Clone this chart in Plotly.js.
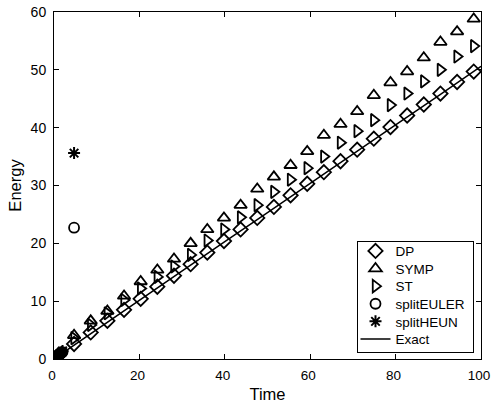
<!DOCTYPE html>
<html>
<head>
<meta charset="utf-8">
<script src="https://cdn.plot.ly/plotly-3.0.1.min.js"></script>
<style>html,body{margin:0;padding:0;background:#fff;}#chart{width:491px;height:407px;}</style>
</head>
<body>
<div id="chart"></div>
<script>
// Marker times (shared by DP, SYMP, ST)
const tMarks = [0, 4.7, 8.6, 12.5, 16.4, 20.3, 24.2, 28.1, 32.0, 35.9, 39.8, 43.7, 47.6, 51.5, 55.4, 59.3, 63.2, 67.1, 71.0, 74.9, 78.8, 82.7, 86.6, 90.5, 94.4, 98.3];
const dpVals   = [0, 2.6, 4.6, 6.6, 8.5, 10.4, 12.5, 14.4, 16.4, 18.4, 20.4, 22.4, 24.4, 26.3, 28.3, 30.3, 32.3, 34.2, 36.2, 38.1, 40.1, 42.1, 44.0, 45.9, 47.9, 49.7];
const sympVals = [0, 4.1, 6.6, 8.3, 10.9, 13.4, 15.4, 17.3, 20.0, 22.4, 24.4, 26.6, 29.4, 31.5, 33.5, 35.9, 38.7, 40.6, 42.8, 45.6, 47.8, 49.7, 52.1, 54.8, 56.6, 58.8];
const stVals   = [0, 3.6, 5.9, 7.9, 10.2, 12.2, 14.2, 16.0, 18.0, 20.5, 22.4, 24.5, 26.6, 28.9, 31.0, 33.0, 35.0, 37.4, 39.4, 41.3, 43.9, 45.9, 48.0, 50.0, 52.3, 54.1];
// Split methods: dense points near the origin plus one outlier each
const tSplit = [0, 0.25, 0.5, 0.75, 1.0, 1.25, 1.5, 1.75, 2.0, 4.7];
const eulerVals = [0, 0.15, 0.3, 0.45, 0.6, 0.75, 0.9, 1.05, 1.2, 22.7];
const heunVals  = [0, 0.2, 0.4, 0.55, 0.7, 0.85, 1.0, 1.2, 1.4, 35.6];
// Exact solution
const tExact = [0, 10, 20, 30, 40, 50, 60, 70, 80, 90, 100];
const exactVals = [0, 5.1, 10.2, 15.2, 20.3, 25.3, 30.4, 35.4, 40.5, 45.5, 50.6];

const names = ['DP', 'SYMP', 'ST', 'splitEULER', 'splitHEUN', 'Exact'];
const mk = (sym, s) => ({symbol: sym, size: s, color: '#000', line: {color: '#000', width: 1.8}});

const traces = [
  {x: tMarks, y: dpVals, name: names[0], mode: 'markers', type: 'scatter', marker: mk('diamond-open', 11)},
  {x: tMarks, y: sympVals, name: names[1], mode: 'markers', type: 'scatter', marker: mk('triangle-up-open', 11)},
  {x: tMarks, y: stVals, name: names[2], mode: 'markers', type: 'scatter', marker: mk('triangle-right-open', 11)},
  {x: tSplit, y: eulerVals, name: names[3], mode: 'markers', type: 'scatter', marker: mk('circle-open', 10)},
  {x: tSplit, y: heunVals, name: names[4], mode: 'markers', type: 'scatter', marker: {symbol: 'asterisk-open', size: 10, color: '#000', line: {color: '#000', width: 2}}},
  {x: tExact, y: exactVals, name: names[5], mode: 'lines', type: 'scatter', line: {color: '#000', width: 1.5}}
];

const font = {family: '"Liberation Sans", Arial, sans-serif', color: '#000'};
const axisBase = {
  showline: true, linecolor: '#000', linewidth: 1, mirror: 'ticks',
  ticks: 'inside', ticklen: 5, tickcolor: '#000', tickwidth: 1,
  showgrid: false, zeroline: false, tickfont: Object.assign({size: 14}, font),
  ticklabelstandoff: 4, ticklabeloverflow: 'allow'
};

const layout = {
  width: 491, height: 407,
  margin: {l: 54, r: 10, t: 12, b: 48},
  paper_bgcolor: '#fff', plot_bgcolor: '#fff',
  font: font,
  showlegend: true,
  legend: {
    x: 0.981, y: 0.02, xanchor: 'right', yanchor: 'bottom',
    bgcolor: '#fff', bordercolor: '#000', borderwidth: 1,
    font: Object.assign({size: 13.5}, font), tracegroupgap: 0, itemwidth: 30
  },
  xaxis: Object.assign({}, axisBase, {
    range: [0, 100], tickvals: [0, 20, 40, 60, 80, 100], ticklabelshift: -2,
    tickfont: Object.assign({size: 13.5}, font),
    title: {text: 'Time', font: Object.assign({size: 16.5}, font), standoff: 6}
  }),
  yaxis: Object.assign({}, axisBase, {
    range: [0, 60], tickvals: [0, 10, 20, 30, 40, 50, 60],
    title: {text: 'Energy', font: Object.assign({size: 16.5}, font), standoff: 4}
  })
};

function parseT(el) {
  const m = /translate\(\s*([-\d.e]+)[ ,]+([-\d.e]+)\s*\)/.exec(el.getAttribute('transform') || '');
  return m ? [parseFloat(m[1]), parseFloat(m[2])] : [0, 0];
}

Plotly.newPlot('chart', traces, layout, {displayModeBar: false, staticPlot: true}).then(function (gd) {
  // Compact the legend rows to match the reference spacing
  const leg = gd.querySelector('g.legend');
  if (!leg) return;
  const bg = leg.querySelector('rect.bg');
  const host = gd.getBoundingClientRect();
  const boxLeft = 357, boxTop = 241, boxW = 116, boxH = 111, rowTop = 251.7, rowStep = 17.6;
  const lt = parseT(leg);
  const bgr = bg.getBoundingClientRect();
  leg.setAttribute('transform', 'translate(' + (lt[0] + boxLeft - (bgr.left - host.left)) + ',' + (lt[1] + boxTop - (bgr.top - host.top)) + ')');
  bg.setAttribute('width', boxW);
  bg.setAttribute('height', boxH);
  const items = leg.querySelectorAll('g.traces');
  items.forEach(function (it, i) {
    const tr = parseT(it);
    const txt = it.querySelector('text.legendtext');
    const r = txt.getBoundingClientRect();
    const c = (r.top + r.bottom) / 2 - host.top;
    it.setAttribute('transform', 'translate(' + (tr[0] - 2) + ',' + (tr[1] + rowTop + i * rowStep - c) + ')');
  });
});
</script>
</body>
</html>
